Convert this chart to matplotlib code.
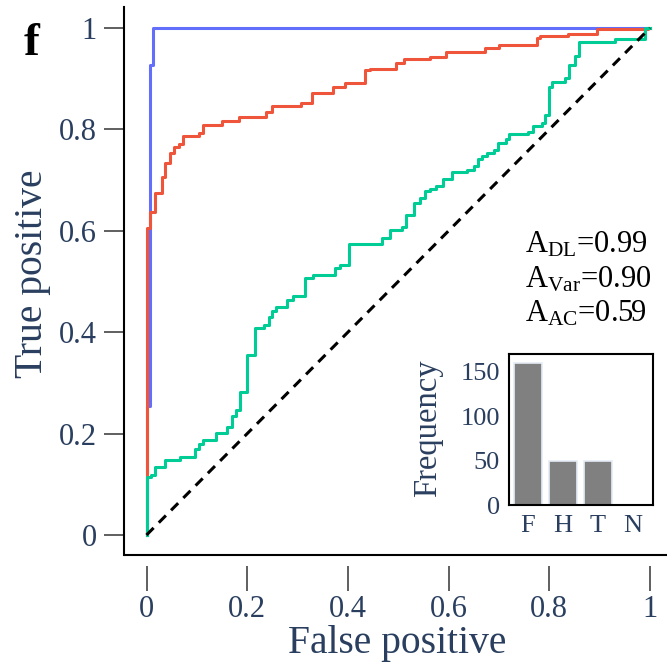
import matplotlib
matplotlib.use('Agg')
import matplotlib.pyplot as plt

plt.rcParams['font.family'] = ['Liberation Serif', 'DejaVu Serif']
plt.rcParams['mathtext.fontset'] = 'custom'
plt.rcParams['mathtext.rm'] = 'Liberation Serif'
plt.rcParams['mathtext.it'] = 'Liberation Serif:italic'
plt.rcParams['mathtext.bf'] = 'Liberation Serif:bold'

TXT = '#2a3f5f'

# ---------------- data ----------------
dl_fpr = [0, 0, 0.006, 0.012, 1.0]
dl_tpr = [0, 0.254, 0.927, 1.0, 1.0]

var_fpr = [0, 0, 0.006, 0.016, 0.030, 0.037, 0.047, 0.055, 0.064, 0.073, 0.104,
           0.113, 0.149, 0.183, 0.238, 0.250, 0.306, 0.329, 0.370, 0.394, 0.433,
           0.443, 0.495, 0.511, 0.564, 0.594, 0.672, 0.700, 0.775, 0.781, 0.837,
           0.894, 0.996, 1.0]
var_tpr = [0, 0.605, 0.637, 0.675, 0.706, 0.734, 0.753, 0.765, 0.771, 0.787, 0.793,
           0.809, 0.817, 0.825, 0.835, 0.846, 0.852, 0.871, 0.884, 0.891, 0.917,
           0.920, 0.930, 0.938, 0.943, 0.953, 0.960, 0.966, 0.981, 0.985, 0.989,
           0.998, 1.0, 1.0]

ac_fpr = [0, 0, 0.008, 0.016, 0.036, 0.066, 0.097, 0.105, 0.113, 0.139, 0.159,
          0.170, 0.178, 0.186, 0.200, 0.215, 0.233, 0.243, 0.250, 0.258, 0.280,
          0.290, 0.314, 0.330, 0.374, 0.385, 0.402, 0.467, 0.484, 0.508, 0.516,
          0.531, 0.544, 0.553, 0.564, 0.575, 0.588, 0.606, 0.636, 0.650, 0.659,
          0.667, 0.677, 0.690, 0.698, 0.714, 0.720, 0.758, 0.767, 0.785, 0.791,
          0.800, 0.806, 0.831, 0.840, 0.851, 0.860, 0.930, 0.990, 1.0]
ac_tpr = [0, 0.115, 0.118, 0.134, 0.148, 0.154, 0.170, 0.180, 0.187, 0.202, 0.214,
          0.235, 0.247, 0.283, 0.355, 0.408, 0.414, 0.430, 0.442, 0.450, 0.463,
          0.471, 0.507, 0.513, 0.527, 0.533, 0.574, 0.586, 0.602, 0.608, 0.631,
          0.654, 0.665, 0.679, 0.682, 0.688, 0.702, 0.715, 0.720, 0.728, 0.741,
          0.748, 0.754, 0.759, 0.773, 0.782, 0.790, 0.794, 0.807, 0.812, 0.828,
          0.884, 0.894, 0.902, 0.927, 0.945, 0.973, 0.978, 1.0, 1.0]

diag_x = [0, 1]
diag_y = [0, 1]

xticks = [0, 0.2, 0.4, 0.6, 0.8, 1.0]
xtick_labels = ['0', '0.2', '0.4', '0.6', '0.8', '1']
yticks = [0, 0.2, 0.4, 0.6, 0.8, 1.0]
ytick_labels = ['0', '0.2', '0.4', '0.6', '0.8', '1']

auc_names = ['DL', 'Var', 'AC']
auc_values = [0.99, 0.90, 0.59]

freq_cats = ['F', 'H', 'T', 'N']
freq_vals = [160, 50, 50, 0]
freq_ticks = [0, 50, 100, 150]

# ---------------- figure ----------------
W, H = 667, 665
fig = plt.figure(figsize=(W / 100, H / 100), dpi=100)

ax = fig.add_axes([124 / W, 1 - 555 / H, (667 - 124) / W, (555 - 7) / H])
ax.set_xlim(-0.0447, 1.0338)
ax.set_ylim(-0.0394, 1.0414)

ax.plot(dl_fpr, dl_tpr, drawstyle='steps-post', color='#636efa', lw=2.2)
ax.plot(var_fpr, var_tpr, drawstyle='steps-post', color='#ef553b', lw=2.2)
ax.plot(ac_fpr, ac_tpr, drawstyle='steps-post', color='#00cc96', lw=2.2)
ax.plot(diag_x, diag_y, color='black', lw=2.2, linestyle=(0, (3.3, 2.4)))

for s in ['top', 'right']:
    ax.spines[s].set_visible(False)
ax.spines['left'].set_linewidth(1.5)
ax.spines['bottom'].set_position(('outward', 8))
ax.spines['bottom'].set_visible(False)
ax.plot([0, 1], [0, 0], transform=ax.transAxes, color='black', lw=1.5,
        clip_on=False, solid_capstyle='butt')

ax.set_xticks(xticks)
ax.set_xticklabels(xtick_labels)
ax.set_yticks(yticks)
ax.set_yticklabels(ytick_labels)
ax.tick_params(axis='y', length=14.4, width=1.2, color='#444444', pad=5,
               labelsize=22, labelcolor=TXT)
ax.tick_params(axis='x', length=18, width=1.2, color='#444444', pad=3,
               labelsize=22, labelcolor=TXT)

fig.text(397 / W, 1 - 643 / H, 'False positive', fontsize=28.5, color=TXT,
         ha='center', va='center')
fig.text(33 / W, 1 - 274 / H, 'True positive', fontsize=28.5, color=TXT,
         ha='center', va='center', rotation=90)

fig.text(24 / W, 1 - 55 / H, 'f', fontsize=34, fontweight='bold', color='black',
         ha='left', va='baseline')

for i, (n, v) in enumerate(zip(auc_names, auc_values)):
    fig.text(525 / W, 1 - (253 + 34 * i) / H,
             r'A$_{\mathrm{' + n + '}}$=' + f'{v:.2f}',
             fontsize=22, color='black', ha='left', va='baseline')

# ---------------- inset ----------------
ins = fig.add_axes([509 / W, 1 - 505 / H, 144 / W, 151 / H])
ins.bar(range(len(freq_cats)), freq_vals, width=0.78, color='#808080',
        edgecolor='#e5ecf6', linewidth=1.2)
ins.set_xlim(-0.54, 3.57)
ins.set_ylim(0, 170)
ins.set_xticks(range(len(freq_cats)))
ins.set_xticklabels(freq_cats)
ins.set_yticks(freq_ticks)
ins.tick_params(axis='both', length=0, labelsize=19, labelcolor=TXT)
ins.tick_params(axis='y', pad=6.5)
ins.tick_params(axis='x', pad=7)
for s in ins.spines.values():
    s.set_linewidth(1.5)
    s.set_color('black')
fig.text(428 / W, 1 - 428 / H, 'Frequency', fontsize=23.5, color=TXT,
         ha='center', va='center', rotation=90)

fig.savefig('out.png', dpi=100)
